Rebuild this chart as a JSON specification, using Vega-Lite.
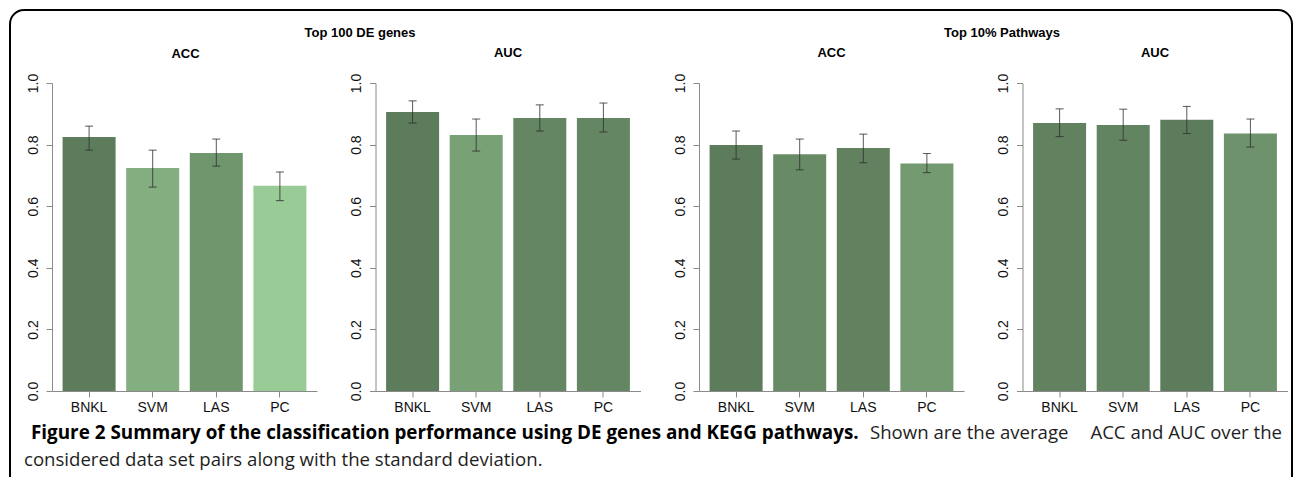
{
  "$schema": "https://vega.github.io/schema/vega-lite/v6.json",
  "background": "white",
  "padding": {"left": 9, "top": 9, "right": 0, "bottom": 0},
  "config": {
    "font": "Liberation Sans",
    "view": {"stroke": null},
    "axis": {"domainColor": "#8a8a8a", "tickColor": "#8a8a8a", "labelColor": "#111111", "labelFontSize": 14, "labelFont": "Liberation Sans", "grid": false, "tickSize": 6, "domainWidth": 1, "tickWidth": 1},
    "axisY": {"labelAngle": 270, "labelAlign": "center", "labelBaseline": "bottom", "labelPadding": 6},
    "axisX": {"labelAngle": 0, "labelPadding": 3},
    "title": {"font": "Liberation Sans", "fontSize": 13, "fontWeight": "bold", "color": "#000000"}
  },
  "datasets": {
    "perf": [
      {"set": "Top 100 DE genes", "metric": "ACC", "method": "BNKL", "mean": 0.825, "lo": 0.782, "hi": 0.860},
      {"set": "Top 100 DE genes", "metric": "ACC", "method": "SVM", "mean": 0.724, "lo": 0.662, "hi": 0.782},
      {"set": "Top 100 DE genes", "metric": "ACC", "method": "LAS", "mean": 0.773, "lo": 0.730, "hi": 0.818},
      {"set": "Top 100 DE genes", "metric": "ACC", "method": "PC", "mean": 0.666, "lo": 0.618, "hi": 0.711},
      {"set": "Top 100 DE genes", "metric": "AUC", "method": "BNKL", "mean": 0.906, "lo": 0.870, "hi": 0.942},
      {"set": "Top 100 DE genes", "metric": "AUC", "method": "SVM", "mean": 0.831, "lo": 0.779, "hi": 0.883},
      {"set": "Top 100 DE genes", "metric": "AUC", "method": "LAS", "mean": 0.886, "lo": 0.844, "hi": 0.929},
      {"set": "Top 100 DE genes", "metric": "AUC", "method": "PC", "mean": 0.886, "lo": 0.841, "hi": 0.935},
      {"set": "Top 10% Pathways", "metric": "ACC", "method": "BNKL", "mean": 0.799, "lo": 0.753, "hi": 0.844},
      {"set": "Top 10% Pathways", "metric": "ACC", "method": "SVM", "mean": 0.769, "lo": 0.718, "hi": 0.818},
      {"set": "Top 10% Pathways", "metric": "ACC", "method": "LAS", "mean": 0.789, "lo": 0.741, "hi": 0.834},
      {"set": "Top 10% Pathways", "metric": "ACC", "method": "PC", "mean": 0.739, "lo": 0.709, "hi": 0.771},
      {"set": "Top 10% Pathways", "metric": "AUC", "method": "BNKL", "mean": 0.870, "lo": 0.826, "hi": 0.916},
      {"set": "Top 10% Pathways", "metric": "AUC", "method": "SVM", "mean": 0.864, "lo": 0.814, "hi": 0.915},
      {"set": "Top 10% Pathways", "metric": "AUC", "method": "LAS", "mean": 0.881, "lo": 0.836, "hi": 0.924},
      {"set": "Top 10% Pathways", "metric": "AUC", "method": "PC", "mean": 0.836, "lo": 0.792, "hi": 0.883}
    ],
    "headings": [
      {"set": "Top 100 DE genes"},
      {"set": "Top 10% Pathways"}
    ],
    "caption": [
      {"weight": "bold", "line": "1", "anchor": "start", "text": "Figure 2 Summary of the classification performance using DE genes and KEGG pathways."},
      {"weight": "regular", "line": "1", "anchor": "middle", "text": "Shown are the average"},
      {"weight": "regular", "line": "1", "anchor": "end", "text": "ACC and AUC over the"},
      {"weight": "regular", "line": "2", "anchor": "start", "text": "considered data set pairs along with the standard deviation."}
    ]
  },
  "bounds": "flush",
  "spacing": 58.5,
  "resolve": {"scale": {"color": "independent"}},
  "hconcat": [
    {
      "width": 265, "height": 308,
      "resolve": {"scale": {"x": "independent", "y": "independent"}, "axis": {"x": "independent", "y": "independent"}},
      "layer": [
        {
          "data": {"name": "perf"},
          "transform": [{"filter": "datum.set === 'Top 100 DE genes' && datum.metric === 'ACC'"}],
          "encoding": {"x": {"field": "method", "type": "nominal", "sort": ["BNKL", "SVM", "LAS", "PC"], "scale": {"paddingInner": 0.1667, "paddingOuter": 0.1667}, "axis": {"title": null}}},
          "layer": [
            {"mark": {"type": "bar"}, "encoding": {"y": {"field": "mean", "type": "quantitative", "scale": {"domain": [0, 1], "nice": false}, "axis": {"title": null, "values": [0, 0.2, 0.4, 0.6, 0.8, 1], "format": ".1f"}}, "color": {"field": "mean", "type": "quantitative", "scale": {"domain": [0.665, 0.825], "range": ["#98cb95", "#5d7c5b"], "interpolate": "rgb"}, "legend": null}}},
            {"mark": {"type": "rule", "color": "#2e2e2e", "strokeWidth": 1, "opacity": 0.8}, "encoding": {"y": {"field": "lo", "type": "quantitative"}, "y2": {"field": "hi"}}},
            {"mark": {"type": "tick", "color": "#2e2e2e", "size": 8, "thickness": 1, "opacity": 0.8}, "encoding": {"y": {"field": "lo", "type": "quantitative"}}},
            {"mark": {"type": "tick", "color": "#2e2e2e", "size": 8, "thickness": 1, "opacity": 0.8}, "encoding": {"y": {"field": "hi", "type": "quantitative"}}}
          ]
        },
        {
          "data": {"values": [{"metric": "ACC"}]},
          "mark": {"type": "text", "font": "Liberation Sans", "fontSize": 13, "fontWeight": "bold", "align": "center", "baseline": "alphabetic", "color": "#000000"},
          "encoding": {
            "x": {"field": "metric", "type": "nominal", "scale": {"type": "point", "domain": ["ACC"], "range": [133.5, 133.5], "padding": 0}, "axis": null},
            "y": {"field": "metric", "type": "nominal", "scale": {"type": "point", "domain": ["ACC"], "range": [-25.5, -25.5], "padding": 0}, "axis": null},
            "text": {"field": "metric"}
          }
        },
        {
          "data": {"name": "headings"},
          "mark": {"type": "text", "font": "Liberation Sans", "fontSize": 13, "fontWeight": "bold", "align": "center", "baseline": "alphabetic", "color": "#000000"},
          "encoding": {
            "x": {"field": "set", "type": "nominal", "scale": {"type": "point", "domain": ["Top 100 DE genes", "Top 10% Pathways"], "range": [308, 950], "padding": 0}, "axis": null},
            "y": {"field": "set", "type": "nominal", "scale": {"type": "point", "domain": ["Top 100 DE genes", "Top 10% Pathways"], "range": [-46.5, -46.5], "padding": 0}, "axis": null},
            "text": {"field": "set"}
          }
        },
        {
          "data": {"name": "caption"},
          "transform": [{"filter": "datum.anchor === 'start'"}, {"filter": "datum.weight === 'bold'"}],
          "mark": {"type": "text", "font": "Open Sans", "fontSize": 18.85, "fontWeight": "bold", "align": "left", "baseline": "alphabetic", "color": "#000000"},
          "encoding": {
            "x": {"field": "anchor", "type": "nominal", "scale": {"type": "point", "domain": ["start"], "range": [-21, -21], "padding": 0}, "axis": null},
            "y": {"field": "line", "type": "nominal", "scale": {"type": "point", "domain": ["1", "2"], "range": [356, 383], "padding": 0}, "axis": null},
            "text": {"field": "text"}
          }
        },
        {
          "data": {"name": "caption"},
          "transform": [{"filter": "datum.anchor === 'start'"}, {"filter": "datum.weight === 'regular'"}],
          "mark": {"type": "text", "font": "Open Sans", "fontSize": 18.6, "fontWeight": "normal", "align": "left", "baseline": "alphabetic", "color": "#1e1e1e"},
          "encoding": {
            "x": {"field": "anchor", "type": "nominal", "scale": {"type": "point", "domain": ["start"], "range": [-28, -28], "padding": 0}, "axis": null},
            "y": {"field": "line", "type": "nominal", "scale": {"type": "point", "domain": ["1", "2"], "range": [356, 383], "padding": 0}, "axis": null},
            "text": {"field": "text"}
          }
        },
        {
          "data": {"name": "caption"},
          "transform": [{"filter": "datum.anchor === 'middle'"}],
          "mark": {"type": "text", "font": "Open Sans", "fontSize": 18.6, "fontWeight": "normal", "align": "left", "baseline": "alphabetic", "color": "#1e1e1e"},
          "encoding": {
            "x": {"field": "anchor", "type": "nominal", "scale": {"type": "point", "domain": ["middle"], "range": [818, 818], "padding": 0}, "axis": null},
            "y": {"field": "line", "type": "nominal", "scale": {"type": "point", "domain": ["1", "2"], "range": [356, 383], "padding": 0}, "axis": null},
            "text": {"field": "text"}
          }
        },
        {
          "data": {"name": "caption"},
          "transform": [{"filter": "datum.anchor === 'end'"}],
          "mark": {"type": "text", "font": "Open Sans", "fontSize": 18.6, "fontWeight": "normal", "align": "right", "baseline": "alphabetic", "color": "#1e1e1e"},
          "encoding": {
            "x": {"field": "anchor", "type": "nominal", "scale": {"type": "point", "domain": ["end"], "range": [1230, 1230], "padding": 0}, "axis": null},
            "y": {"field": "line", "type": "nominal", "scale": {"type": "point", "domain": ["1", "2"], "range": [356, 383], "padding": 0}, "axis": null},
            "text": {"field": "text"}
          }
        },
        {
          "data": {"values": [{"frame": "figure"}]},
          "mark": {"type": "rect", "fill": "white", "fillOpacity": 0, "stroke": "#000000", "strokeWidth": 2, "cornerRadius": 14},
          "encoding": {
            "x": {"datum": 0, "type": "quantitative", "scale": {"domain": [0, 1], "range": [-42, 1240]}, "axis": null},
            "x2": {"datum": 1},
            "y": {"datum": 0, "type": "quantitative", "scale": {"domain": [0, 1], "range": [-73, 407]}, "axis": null},
            "y2": {"datum": 1}
          }
        }
      ]
    },
    {
      "width": 265, "height": 308,
      "title": {"text": "AUC", "anchor": "middle", "frame": "group", "offset": 13},
      "data": {"name": "perf"},
      "transform": [{"filter": "datum.set === 'Top 100 DE genes' && datum.metric === 'AUC'"}],
      "encoding": {"x": {"field": "method", "type": "nominal", "sort": ["BNKL", "SVM", "LAS", "PC"], "scale": {"paddingInner": 0.1667, "paddingOuter": 0.1667}, "axis": {"title": null}}},
      "layer": [
        {"mark": {"type": "bar"}, "encoding": {"y": {"field": "mean", "type": "quantitative", "scale": {"domain": [0, 1], "nice": false}, "axis": {"title": null, "values": [0, 0.2, 0.4, 0.6, 0.8, 1], "format": ".1f"}}, "color": {"field": "mean", "type": "quantitative", "scale": {"domain": [0.746, 0.906], "range": ["#98cb95", "#5d7c5b"], "interpolate": "rgb"}, "legend": null}}},
        {"mark": {"type": "rule", "color": "#2e2e2e", "strokeWidth": 1, "opacity": 0.8}, "encoding": {"y": {"field": "lo", "type": "quantitative"}, "y2": {"field": "hi"}}},
        {"mark": {"type": "tick", "color": "#2e2e2e", "size": 8, "thickness": 1, "opacity": 0.8}, "encoding": {"y": {"field": "lo", "type": "quantitative"}}},
        {"mark": {"type": "tick", "color": "#2e2e2e", "size": 8, "thickness": 1, "opacity": 0.8}, "encoding": {"y": {"field": "hi", "type": "quantitative"}}}
      ]
    },
    {
      "width": 265, "height": 308,
      "title": {"text": "ACC", "anchor": "middle", "frame": "group", "offset": 13},
      "data": {"name": "perf"},
      "transform": [{"filter": "datum.set === 'Top 10% Pathways' && datum.metric === 'ACC'"}],
      "encoding": {"x": {"field": "method", "type": "nominal", "sort": ["BNKL", "SVM", "LAS", "PC"], "scale": {"paddingInner": 0.1667, "paddingOuter": 0.1667}, "axis": {"title": null}}},
      "layer": [
        {"mark": {"type": "bar"}, "encoding": {"y": {"field": "mean", "type": "quantitative", "scale": {"domain": [0, 1], "nice": false}, "axis": {"title": null, "values": [0, 0.2, 0.4, 0.6, 0.8, 1], "format": ".1f"}}, "color": {"field": "mean", "type": "quantitative", "scale": {"domain": [0.639, 0.799], "range": ["#98cb95", "#5d7c5b"], "interpolate": "rgb"}, "legend": null}}},
        {"mark": {"type": "rule", "color": "#2e2e2e", "strokeWidth": 1, "opacity": 0.8}, "encoding": {"y": {"field": "lo", "type": "quantitative"}, "y2": {"field": "hi"}}},
        {"mark": {"type": "tick", "color": "#2e2e2e", "size": 8, "thickness": 1, "opacity": 0.8}, "encoding": {"y": {"field": "lo", "type": "quantitative"}}},
        {"mark": {"type": "tick", "color": "#2e2e2e", "size": 8, "thickness": 1, "opacity": 0.8}, "encoding": {"y": {"field": "hi", "type": "quantitative"}}}
      ]
    },
    {
      "width": 265, "height": 308,
      "title": {"text": "AUC", "anchor": "middle", "frame": "group", "offset": 13},
      "data": {"name": "perf"},
      "transform": [{"filter": "datum.set === 'Top 10% Pathways' && datum.metric === 'AUC'"}],
      "encoding": {"x": {"field": "method", "type": "nominal", "sort": ["BNKL", "SVM", "LAS", "PC"], "scale": {"paddingInner": 0.1667, "paddingOuter": 0.1667}, "axis": {"title": null}}},
      "layer": [
        {"mark": {"type": "bar"}, "encoding": {"y": {"field": "mean", "type": "quantitative", "scale": {"domain": [0, 1], "nice": false}, "axis": {"title": null, "values": [0, 0.2, 0.4, 0.6, 0.8, 1], "format": ".1f"}}, "color": {"field": "mean", "type": "quantitative", "scale": {"domain": [0.721, 0.881], "range": ["#98cb95", "#5d7c5b"], "interpolate": "rgb"}, "legend": null}}},
        {"mark": {"type": "rule", "color": "#2e2e2e", "strokeWidth": 1, "opacity": 0.8}, "encoding": {"y": {"field": "lo", "type": "quantitative"}, "y2": {"field": "hi"}}},
        {"mark": {"type": "tick", "color": "#2e2e2e", "size": 8, "thickness": 1, "opacity": 0.8}, "encoding": {"y": {"field": "lo", "type": "quantitative"}}},
        {"mark": {"type": "tick", "color": "#2e2e2e", "size": 8, "thickness": 1, "opacity": 0.8}, "encoding": {"y": {"field": "hi", "type": "quantitative"}}}
      ]
    }
  ]
}
